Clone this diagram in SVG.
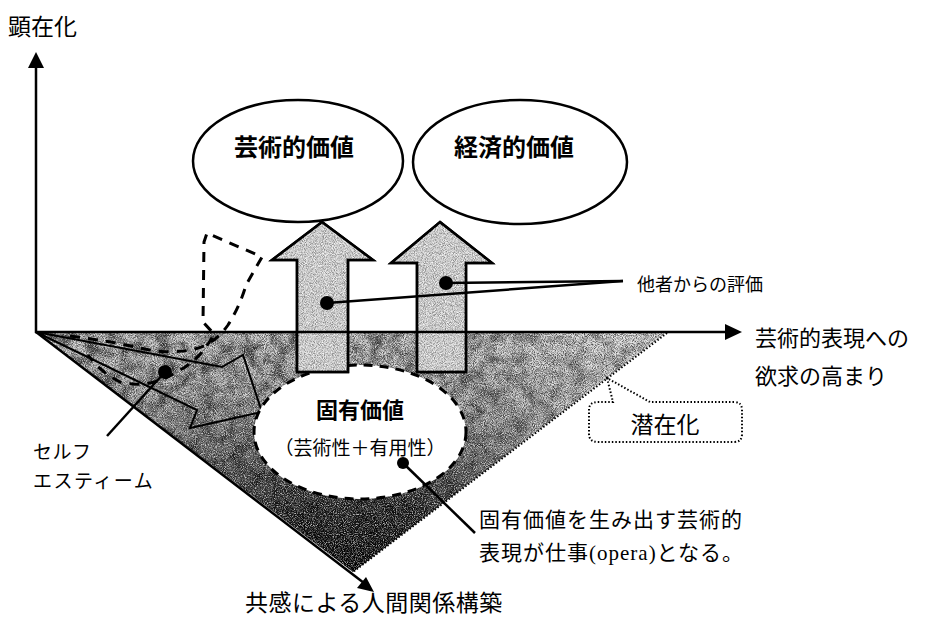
<svg xmlns="http://www.w3.org/2000/svg" width="925" height="619" viewBox="0 0 925 619">
<style>
.sans{font-family:"Noto Sans CJK JP","Liberation Sans",sans-serif;fill:#000}
.serif{font-family:"Liberation Serif","Noto Sans CJK JP",serif;fill:#000}
.ln{stroke:#000;stroke-width:2.5;fill:none}
.thin{stroke:#000;stroke-width:2;fill:none}
.dash{stroke:#000;stroke-width:3;fill:none;stroke-dasharray:10 8}
.dot{stroke:#000;stroke-width:2;fill:none;stroke-dasharray:1.5 2}
.up{fill:#d2d2d2;stroke:#000;stroke-width:2.5}
</style>
<defs>
<linearGradient id="triG" gradientUnits="userSpaceOnUse" x1="0" y1="332" x2="0" y2="572">
<stop offset="0" stop-color="#c4c4c4"/>
<stop offset="0.3" stop-color="#a0a0a0"/>
<stop offset="0.55" stop-color="#5a5a5a"/>
<stop offset="0.78" stop-color="#181818"/>
<stop offset="1" stop-color="#000"/>
</linearGradient>
<linearGradient id="lightR" gradientUnits="userSpaceOnUse" x1="420" y1="0" x2="667" y2="0">
<stop offset="0" stop-color="#fff" stop-opacity="0"/>
<stop offset="1" stop-color="#fff" stop-opacity="0.45"/>
</linearGradient>
<clipPath id="triC"><polygon points="36,332 667,332 353,572"/></clipPath>
<clipPath id="upC">
<polygon points="322,222 373,260 348,260 348,372 297,372 297,260 272,260"/>
<polygon points="440,222 492,263 466,263 466,372 417,372 417,263 391,263"/>
</clipPath>
<filter id="mottle" x="0" y="0" width="1" height="1">
<feTurbulence type="fractalNoise" baseFrequency="0.07" numOctaves="3" seed="7"/>
<feColorMatrix type="matrix" values="0 0 0 0 0  0 0 0 0 0  0 0 0 0 0  2.8 0 0 0 -1.1"/>
</filter>
<filter id="grainW" x="0" y="0" width="1" height="1">
<feTurbulence type="fractalNoise" baseFrequency="1.1" numOctaves="1" seed="2"/>
<feColorMatrix type="matrix" values="0 0 0 0 1  0 0 0 0 1  0 0 0 0 1  3.2 0 0 0 -1.35"/>
</filter>
<filter id="grainB" x="0" y="0" width="1" height="1">
<feTurbulence type="fractalNoise" baseFrequency="1.1" numOctaves="1" seed="9"/>
<feColorMatrix type="matrix" values="0 0 0 0 0  0 0 0 0 0  0 0 0 0 0  3.2 0 0 0 -1.35"/>
</filter>
</defs>
<rect width="925" height="619" fill="#fff"/>

<g id="triangle">
<polygon points="36,332 667,332 353,572" fill="url(#triG)"/>
<g clip-path="url(#triC)">
<rect x="36" y="332" width="632" height="241" fill="#000" filter="url(#mottle)" opacity="0.6"/>
<rect x="36" y="332" width="632" height="241" fill="url(#lightR)"/>
<rect x="36" y="332" width="632" height="241" fill="#fff" filter="url(#grainW)" opacity="0.7"/>
<rect x="36" y="332" width="632" height="241" fill="#000" filter="url(#grainB)" opacity="0.6"/>
</g>
<line class="dot" x1="667" y1="333" x2="353" y2="572"/>
</g>

<g id="self-esteem-arrow">
<polygon class="thin" points="36,332 222,367 243,355 262,412 190,428 197,410"/>
</g>

<g id="self-esteem-balloon">
<path class="dash" d="M70,336 Q110,341 140,348 Q170,355 195,349 Q215,344 228,325 Q240,306 246,285 L262,257 L207,233 L204,242 L203,322 L214,334 Q200,360 180,370 Q150,390 120,382 Q100,372 88,355"/>
</g>

<g id="intrinsic-value">
<ellipse cx="360" cy="432" rx="106" ry="67" fill="#fff" stroke="#000" stroke-width="3" stroke-dasharray="9 7"/>
<text class="serif" x="360" y="418" font-size="22" font-weight="bold" text-anchor="middle">固有価値</text>
<text class="serif" x="360" y="455" font-size="19" text-anchor="middle">（芸術性＋有用性）</text>
</g>

<g id="up-arrow-artistic">
<polygon class="up" points="322,222 373,260 348,260 348,372 297,372 297,260 272,260"/>
</g>
<g id="up-arrow-economic">
<polygon class="up" points="440,222 492,263 466,263 466,372 417,372 417,263 391,263"/>
</g>
<g clip-path="url(#upC)">
<rect x="270" y="220" width="225" height="155" fill="#fff" filter="url(#grainW)" opacity="0.8"/>
<rect x="270" y="220" width="225" height="155" fill="#000" filter="url(#grainB)" opacity="0.35"/>
</g>
<polygon points="322,222 373,260 348,260 348,372 297,372 297,260 272,260" fill="none" stroke="#000" stroke-width="2.5"/>
<polygon points="440,222 492,263 466,263 466,372 417,372 417,263 391,263" fill="none" stroke="#000" stroke-width="2.5"/>

<g id="artistic-value">
<ellipse cx="298" cy="161" rx="105" ry="61" fill="#fff" stroke="#000" stroke-width="2.5"/>
<text class="sans" x="294" y="156" font-size="24" font-weight="bold" text-anchor="middle">芸術的価値</text>
</g>
<g id="economic-value">
<ellipse cx="520" cy="162" rx="107" ry="62" fill="#fff" stroke="#000" stroke-width="2.5"/>
<text class="sans" x="514" y="156" font-size="24" font-weight="bold" text-anchor="middle">経済的価値</text>
</g>

<g id="latent-callout">
<path class="dot" d="M607,378 L613,402 L598,402 Q589,402 589,410 L589,434 Q589,442 598,442 L734,442 Q742,442 742,434 L742,410 Q742,402 734,402 L650,402 Z"/>
<text class="sans" x="665" y="433" font-size="23" text-anchor="middle">潜在化</text>
</g>

<g id="connectors">
<line class="ln" x1="36" y1="333" x2="36" y2="66"/>
<polygon points="36,52 28,68 44,68" fill="#000"/>
<line class="ln" x1="35" y1="332" x2="727" y2="332"/>
<polygon points="742,332 725,324 725,340" fill="#000"/>
<line class="ln" x1="36" y1="332" x2="364" y2="583"/>
<polygon points="374,592 357,588 366,577" fill="#000"/>
<line class="ln" x1="327" y1="303" x2="623" y2="281"/>
<line class="ln" x1="446" y1="283" x2="623" y2="281"/>
<circle cx="327" cy="303" r="7" fill="#000"/>
<circle cx="446" cy="283" r="7" fill="#000"/>
<line class="ln" x1="165" y1="372" x2="107" y2="436"/>
<circle cx="165" cy="372" r="7" fill="#000"/>
<line class="ln" x1="403" y1="463" x2="475" y2="533"/>
<circle cx="403" cy="463" r="6" fill="#000"/>
</g>

<g id="labels">
<text class="sans" x="8" y="35" font-size="23">顕在化</text>
<text class="sans" x="637" y="291" font-size="18">他者からの評価</text>
<text class="sans" x="755" y="346" font-size="22">芸術的表現への</text>
<text class="sans" x="755" y="384" font-size="22">欲求の高まり</text>
<text class="sans" x="33" y="459" font-size="19" letter-spacing="0.5">セルフ</text>
<text class="sans" x="33" y="488" font-size="19" letter-spacing="1.5">エスティーム</text>
<text class="serif" x="479" y="527" font-size="21" letter-spacing="1">固有価値を生み出す芸術的</text>
<text class="serif" x="479" y="560" font-size="21" letter-spacing="1">表現が仕事(opera)となる。</text>
<text class="sans" x="245" y="611" font-size="23" letter-spacing="0.5">共感による人間関係構築</text>
</g>
</svg>
